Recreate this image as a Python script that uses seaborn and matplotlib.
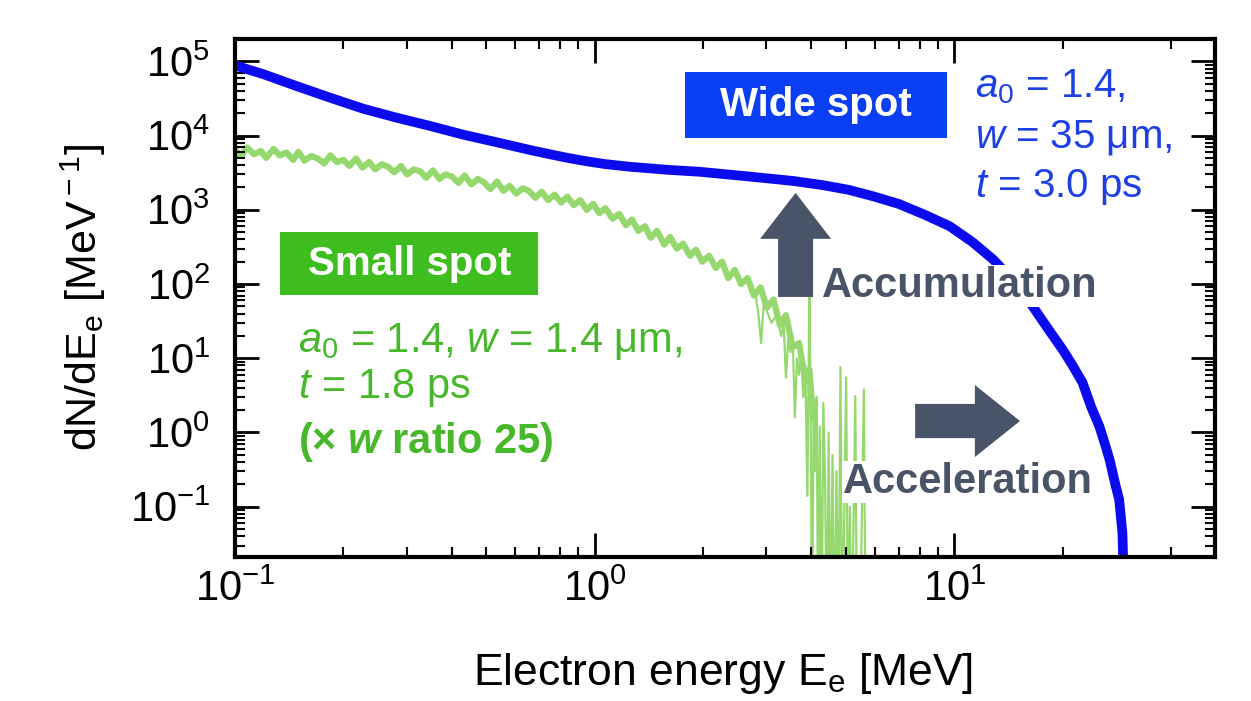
import matplotlib
matplotlib.use('Agg')
import matplotlib.pyplot as plt
import seaborn as sns
import pandas as pd
from matplotlib.patches import Rectangle, FancyArrow
from matplotlib.ticker import FixedLocator, NullFormatter, LogLocator, LogFormatterSciNotation

# wide spot spectrum (blue)
wide_energy = [0.100, 0.120, 0.149, 0.185, 0.227, 0.28, 0.348, 0.43, 0.535, 0.66,
               0.75, 0.85, 0.95, 1.06, 1.25, 1.6, 1.96, 2.6, 3.55, 4.3, 5.1, 6.0, 7.0,
               8.3, 9.7, 11.2, 12.8, 14.6, 16.5, 18.2, 20.0, 21.3, 22.7,
               24.0, 25.3, 26.2, 27.0, 28.0, 28.7, 29.3, 29.7]
wide_counts = [8.8e4, 6.7e4, 4.6e4, 3.2e4, 2.3e4, 1.75e4, 1.35e4, 1.03e4, 8.1e3, 6.4e3,
               5.6e3, 4.95e3, 4.5e3, 4.15e3, 3.8e3, 3.45e3, 3.25e3, 2.85e3, 2.45e3, 2.15e3, 1.85e3, 1.5e3, 1.2e3,
               850, 600, 370, 215, 110, 50, 25, 13, 8, 4.7,
               2.2, 1.2, 0.7, 0.43, 0.2, 0.125, 0.045, 0.005]

# small spot spectrum (green), noisy band
small_energy = [0.100, 0.104, 0.108, 0.113, 0.118, 0.122, 0.128, 0.133, 0.139, 0.145,
                0.150, 0.156, 0.163, 0.170, 0.177, 0.184, 0.192, 0.200, 0.208, 0.217,
                0.226, 0.236, 0.245, 0.256, 0.266, 0.277, 0.289, 0.301, 0.314, 0.327,
                0.340, 0.355, 0.370, 0.385, 0.401, 0.418, 0.435, 0.454, 0.473, 0.492,
                0.513, 0.535, 0.557, 0.580, 0.605, 0.630, 0.656, 0.684, 0.712, 0.742,
                0.773, 0.806, 0.839, 0.875, 0.911, 0.950, 0.990, 1.03, 1.07, 1.12,
                1.17, 1.22, 1.27, 1.32, 1.38, 1.43, 1.49, 1.56, 1.62, 1.69,
                1.76, 1.84, 1.91, 1.99, 2.08, 2.17, 2.26, 2.35, 2.45, 2.55,
                2.66, 2.77, 2.89, 3.01, 3.14, 3.27, 3.40, 3.55, 3.70, 3.85,
                3.95, 4.05]
small_counts = [6500, 5300, 6900, 5600, 6200, 5000, 6600, 5400, 5900, 4700,
                6000, 4600, 5300, 4900, 4200, 5400, 4400, 4700, 3900, 4900,
                3700, 4400, 3500, 4100, 3800, 3200, 3900, 3000, 3500, 3300,
                2700, 3400, 2600, 3000, 2800, 2300, 2900, 2200, 2600, 2350,
                1900, 2400, 1800, 2100, 1650, 1950, 1800, 1450, 1750, 1350,
                1600, 1250, 1500, 1150, 1350, 1000, 1200, 900, 1050, 760,
                880, 620, 740, 520, 600, 420, 520, 340, 430, 300,
                350, 240, 290, 200, 240, 165, 200, 120, 155, 100,
                120, 70, 90, 48, 62, 28, 38, 14, 16, 5,
                7, 1.5]

# spiky tail of the small spot spectrum
tail_energy = [2.80, 2.85, 2.90, 2.95, 3.00, 3.10, 3.20, 3.30, 3.35, 3.40,
               3.45, 3.50, 3.55, 3.60, 3.65, 3.70, 3.75, 3.80, 3.85, 3.90,
               3.95, 3.98, 4.02, 4.06, 4.10, 4.14, 4.18, 4.22, 4.27, 4.32,
               4.37, 4.42, 4.47, 4.52, 4.58, 4.64, 4.70, 4.76, 4.82, 4.88,
               4.94, 5.00, 5.06, 5.12, 5.18, 5.30, 5.36, 5.45, 5.60, 5.66]
tail_counts = [70, 40, 16, 55, 45, 30, 38, 20, 30, 5.5,
               18, 12, 20, 1.6, 10, 6, 12, 3, 8, 0.14,
               80, 4, 0.001, 2, 0.3, 3, 0.001, 1.2, 0.001, 2.5,
               0.2, 0.001, 1.0, 0.001, 0.5, 0.001, 0.3, 0.001, 7.6, 0.001,
               0.08, 5.5, 0.001, 0.1, 0.001, 3.1, 0.001, 0.001, 3.8, 0.001]

x_minor = [0.2, 0.3, 0.4, 0.5, 0.6, 0.7, 0.8, 0.9,
           2, 3, 4, 5, 6, 7, 8, 9, 20, 40]
y_major = [1e-1, 1e0, 1e1, 1e2, 1e3, 1e4, 1e5]

blue_line = '#0b0bee'
green_line = '#95d96e'
blue_text = '#1c40e6'
green_text = '#46b82a'
slate = '#4a5468'

sns.set_theme(style='ticks')
plt.rcParams.update({
    'font.family': ['Liberation Sans', 'DejaVu Sans'],
    'mathtext.fontset': 'custom',
    'mathtext.rm': 'Liberation Sans',
    'mathtext.it': 'Liberation Sans:italic',
    'mathtext.bf': 'Liberation Sans:bold',
    'mathtext.bfit': 'Liberation Sans:italic:bold',
    'axes.unicode_minus': False,
    'axes.axisbelow': False,
    'axes.labelcolor': 'black',
    'text.color': 'black',
    'xtick.direction': 'in', 'ytick.direction': 'in',
    'xtick.top': True, 'ytick.right': True,
    'xtick.major.size': 17, 'ytick.major.size': 17,
    'xtick.minor.size': 7, 'ytick.minor.size': 7,
    'xtick.major.width': 2, 'ytick.major.width': 2,
    'xtick.minor.width': 1.5, 'ytick.minor.width': 1.5,
    'xtick.color': 'black', 'ytick.color': 'black',
})

fig = plt.figure(figsize=(12.51, 7.01), dpi=100)
ax = fig.add_axes([0.1879, 0.2054, 0.7833, 0.739])

wide = pd.DataFrame({'E': wide_energy, 'N': wide_counts})
small = pd.DataFrame({'E': small_energy, 'N': small_counts})
tail = pd.DataFrame({'E': tail_energy, 'N': tail_counts})

sns.lineplot(data=tail, x='E', y='N', ax=ax, color=green_line, lw=1.6,
             estimator=None, sort=False, zorder=2)
sns.lineplot(data=small, x='E', y='N', ax=ax, color=green_line, lw=4.5,
             estimator=None, sort=False, zorder=2)
sns.lineplot(data=wide, x='E', y='N', ax=ax, color=blue_line, lw=7,
             estimator=None, sort=False, zorder=3)

ax.set_xscale('log')
ax.set_yscale('log')
ax.set_xlim(0.1, 53)
ax.set_ylim(0.021, 2.0e5)
ax.xaxis.set_minor_locator(FixedLocator(x_minor))
ax.xaxis.set_minor_formatter(NullFormatter())
ax.yaxis.set_major_locator(FixedLocator(y_major))
ax.yaxis.set_major_formatter(LogFormatterSciNotation())
ax.yaxis.set_minor_locator(LogLocator(base=10, subs=range(2, 10), numticks=20))
ax.yaxis.set_minor_formatter(NullFormatter())

for s in ax.spines.values():
    s.set_linewidth(3)
    s.set_color('black')
    s.set_zorder(10)
ax.tick_params(which='both', direction='in', top=True, right=True,
               bottom=True, left=True, colors='black')
ax.tick_params(which='major', length=17, width=2, labelsize=30)
ax.tick_params(which='minor', length=7, width=1.5)
ax.tick_params(axis='x', which='major', pad=9)
ax.tick_params(axis='y', which='major', pad=18)

ax.set_xlabel(r'Electron energy E$_{\rm e}$ [MeV]', fontsize=32, color='black')
ax.set_ylabel(r'dN/dE$_{\rm e}$ [MeV$^{\rm -1}$]', fontsize=31, color='black')
ax.xaxis.set_label_coords(0.498, -0.182)
ax.yaxis.set_label_coords(-0.13, 0.5)

# label boxes
ax.add_patch(Rectangle((0.459, 0.809), 0.268, 0.127, transform=ax.transAxes,
                       facecolor='#0a3ef2', edgecolor='none', zorder=5))
ax.text(0.593, 0.872, 'Wide spot', transform=ax.transAxes, color='white',
        fontsize=29, fontweight='bold', ha='center', va='center', zorder=6)
ax.add_patch(Rectangle((0.046, 0.506), 0.263, 0.121, transform=ax.transAxes,
                       facecolor='#3dbe1e', edgecolor='none', zorder=5))
ax.text(0.178, 0.566, 'Small spot', transform=ax.transAxes, color='white',
        fontsize=29, fontweight='bold', ha='center', va='center', zorder=6)

# parameters
for txt, yy in [(r'$a_0$ = 1.4,', 0.888), (r'$w$ = 35 μm,', 0.790), (r'$t$ = 3.0 ps', 0.695)]:
    ax.text(0.755, yy, txt, transform=ax.transAxes, color=blue_text,
            fontsize=29, ha='left', va='baseline', zorder=6)
for txt, yy in [(r'$a_0$ = 1.4, $w$ = 1.4 μm,', 0.396), (r'$t$ = 1.8 ps', 0.307)]:
    ax.text(0.064, yy, txt, transform=ax.transAxes, color=green_text,
            fontsize=30, ha='left', va='baseline', zorder=6)
ax.text(0.064, 0.201, r'(× $\mathbfit{w}$ ratio 25)', transform=ax.transAxes,
        color=green_text, fontsize=30, fontweight='bold', ha='left',
        va='baseline', zorder=6)

# arrows
ax.add_patch(FancyArrow(0.572, 0.502, 0, 0.201, width=0.0357, head_width=0.0724,
                        head_length=0.0888, length_includes_head=True,
                        transform=ax.transAxes, color=slate, lw=0, zorder=7))
ax.add_patch(FancyArrow(0.694, 0.2625, 0.107, 0, width=0.066, head_width=0.139,
                        head_length=0.046, length_includes_head=True,
                        transform=ax.transAxes, color=slate, lw=0, zorder=7))
ax.text(0.740, 0.502, 'Accumulation', transform=ax.transAxes, color=slate,
        fontsize=30, fontweight='bold', ha='center', va='baseline', zorder=6,
        bbox=dict(facecolor='white', edgecolor='none', pad=1))
ax.text(0.748, 0.124, 'Acceleration', transform=ax.transAxes, color=slate,
        fontsize=30, fontweight='bold', ha='center', va='baseline', zorder=6,
        bbox=dict(facecolor='white', edgecolor='none', pad=1))

fig.savefig('out.png', dpi=100, facecolor='white')
